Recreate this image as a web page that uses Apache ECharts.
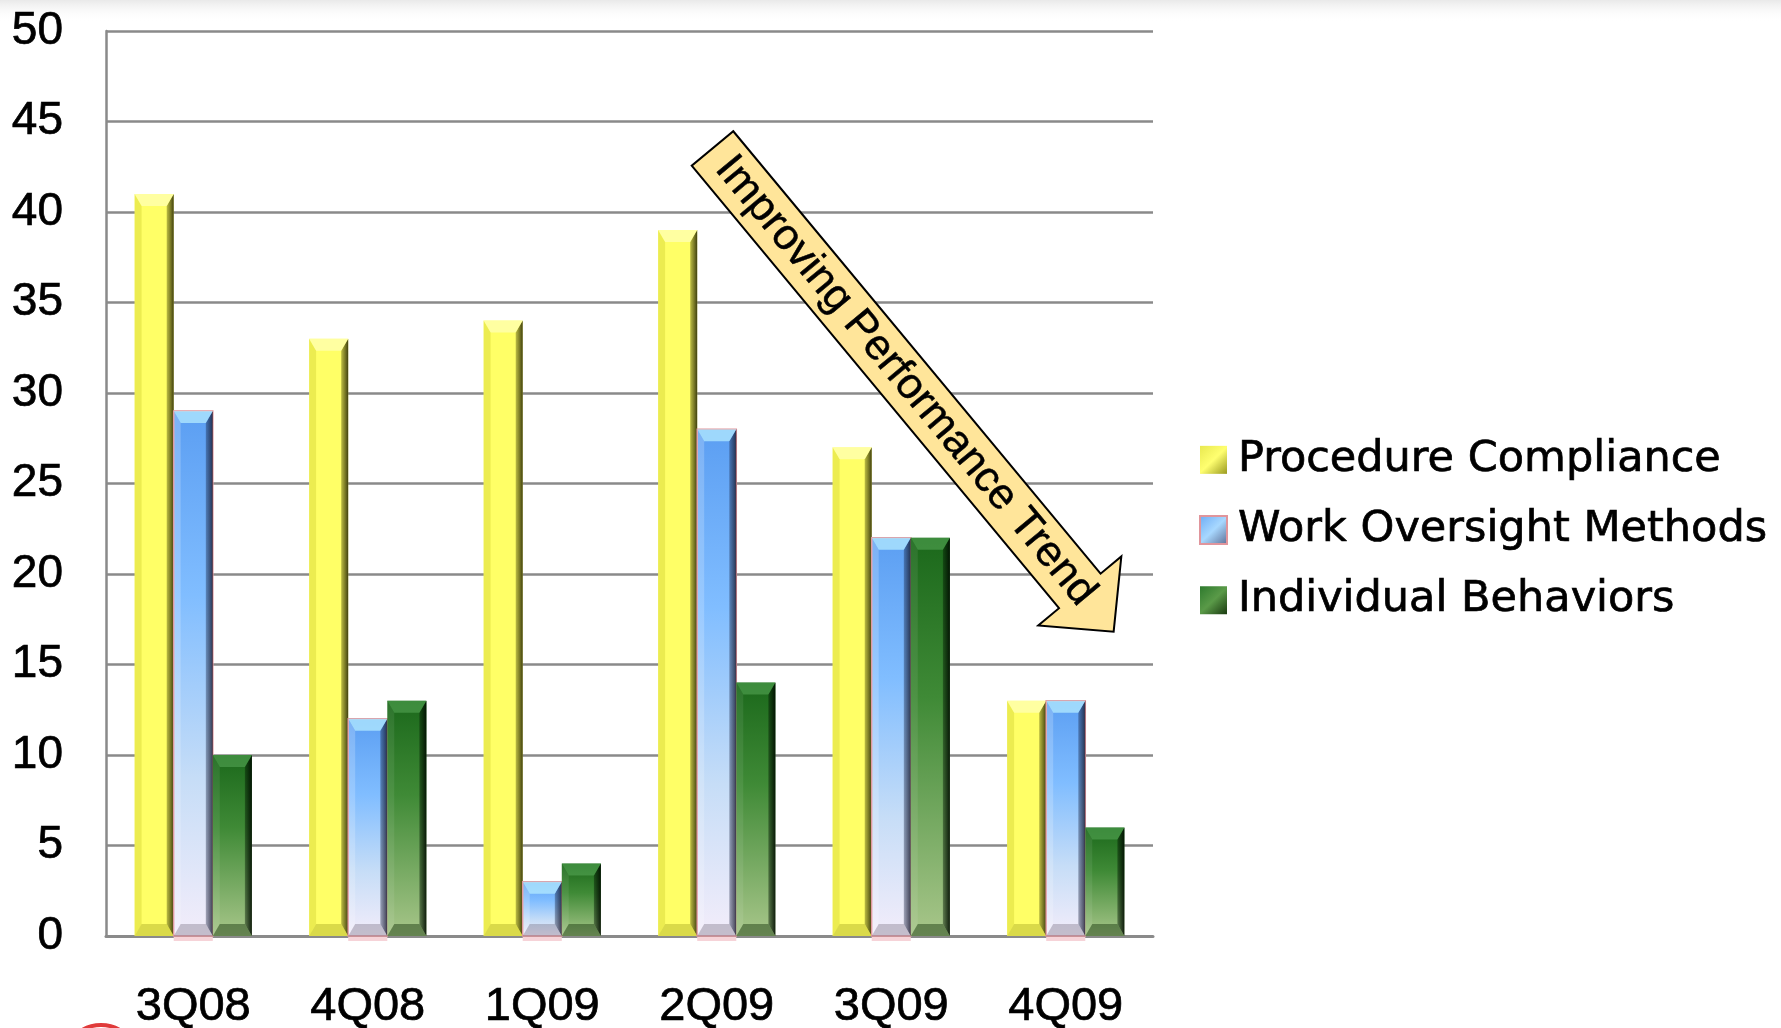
<!DOCTYPE html>
<html>
<head>
<meta charset="utf-8">
<script src="https://cdn.jsdelivr.net/npm/echarts@6/dist/echarts.min.js"></script>
<style>
  html, body { margin: 0; padding: 0; background: #fff; }
  #main { width: 1781px; height: 1028px; }
</style>
</head>
<body>
<div id="main"></div>
<script>
// chart data
var categories = ['3Q08', '4Q08', '1Q09', '2Q09', '3Q09', '4Q09'];
var procedureCompliance = [41, 33, 34, 39, 27, 13];
var workOversightMethods = [29, 12, 3, 28, 22, 13];
var individualBehaviors = [10, 13, 4, 14, 22, 6];
var seriesNames = ['Procedure Compliance', 'Work Oversight Methods', 'Individual Behaviors'];

var LG = echarts.graphic.LinearGradient;
var myChart = echarts.init(document.getElementById('main'));

// bar looks (bevelled 3d style like the office chart)
var looks = [
    {
        body: '#FFFF66',
        left: 'rgba(200,200,40,0.35)',
        top: 'rgba(255,255,200,0.6)',
        bottom: 'rgba(150,150,20,0.35)',
        rightA: 'rgba(60,60,0,0.35)', rightB: 'rgba(30,30,0,0.85)',
        stroke: null
    },
    {
        body: new LG(0, 0, 0, 1, [
            {offset: 0, color: '#5B9EF2'},
            {offset: 0.35, color: '#80BDFF'},
            {offset: 0.7, color: '#C6DDF7'},
            {offset: 1, color: '#F3EDFA'}
        ]),
        left: 'rgba(255,255,255,0.2)',
        top: 'rgba(180,235,255,0.75)',
        bottom: 'rgba(90,80,100,0.3)',
        rightA: 'rgba(20,30,60,0.35)', rightB: 'rgba(20,20,40,0.8)',
        stroke: '#E0959C'
    },
    {
        body: new LG(0, 0, 0, 1, [
            {offset: 0, color: '#1B681B'},
            {offset: 0.4, color: '#3F8A36'},
            {offset: 1, color: '#A8C68A'}
        ]),
        left: 'rgba(255,255,255,0.08)',
        top: 'rgba(90,170,90,0.55)',
        bottom: 'rgba(20,50,10,0.45)',
        rightA: 'rgba(0,20,0,0.4)', rightB: 'rgba(0,10,0,0.9)',
        stroke: null
    }
];

function makeRender(idx) {
    var lk = looks[idx];
    return function (params, api) {
        var cat = api.value(0);
        var val = api.value(1);
        var base = api.coord([cat, 0]);
        var top = api.coord([cat, val]);
        var band = api.size([1, 0])[0];
        var w = band * 0.224;
        var x0 = base[0] - 1.5 * w + idx * w;
        var x1 = x0 + w;
        var y0 = top[1], y1 = base[1];
        var h = y1 - y0;
        var b = 7, bh = Math.min(12, h / 2);
        var kids = [
            {type: 'rect', shape: {x: x0, y: y0, width: w, height: h},
             style: {fill: lk.body, stroke: lk.stroke, lineWidth: lk.stroke ? 1.5 : 0}},
            {type: 'polygon', shape: {points: [[x0, y0], [x0 + b, y0 + bh], [x0 + b, y1 - bh], [x0, y1]]},
             style: {fill: lk.left}},
            {type: 'polygon', shape: {points: [[x1, y0], [x1, y1], [x1 - b, y1 - bh], [x1 - b, y0 + bh]]},
             style: {fill: new LG(0, 0, 1, 0, [{offset: 0, color: lk.rightA}, {offset: 1, color: lk.rightB}])}},
            {type: 'polygon', shape: {points: [[x0, y0], [x1, y0], [x1 - b, y0 + bh], [x0 + b, y0 + bh]]},
             style: {fill: lk.top}},
            {type: 'polygon', shape: {points: [[x0, y1], [x1, y1], [x1 - b, y1 - bh], [x0 + b, y1 - bh]]},
             style: {fill: lk.bottom}}
        ];
        if (lk.stroke) {
            kids.push({type: 'rect', shape: {x: x0, y: y1 + 1, width: w, height: 4},
                style: {fill: '#F6D3D8'}});
        }
        return {type: 'group', children: kids};
    };
}

function toPairs(arr) {
    return categories.map(function (c, i) { return [i, arr[i]]; });
}

// arrow annotation
var ang = 50.3 * Math.PI / 180;
var ox = 712.5, oy = 148.5;
var ux = Math.cos(ang), uy = Math.sin(ang), vx = Math.sin(ang), vy = -Math.cos(ang);
var arrowLocal = [[0, 27], [575, 27], [575, 54], [628, 0], [575, -54], [575, -27], [0, -27]];
var arrowPts = arrowLocal.map(function (p) {
    return [ox + p[0] * ux + p[1] * vx, oy + p[0] * uy + p[1] * vy];
});
var textAlong = 302;

var legendIcons = [
    new LG(0, 0, 1, 1, [{offset: 0, color: '#E8E850'}, {offset: 0.5, color: '#FFFF70'}, {offset: 1, color: '#9A9A20'}]),
    new LG(0, 0, 1, 1, [{offset: 0, color: '#6AAAF5'}, {offset: 0.5, color: '#A8D8FF'}, {offset: 1, color: '#5A6A90'}]),
    new LG(0, 0, 1, 1, [{offset: 0, color: '#2E7A2E'}, {offset: 0.5, color: '#5A9A48'}, {offset: 1, color: '#1A3A10'}])
];

var option = {
    backgroundColor: '#fff',
    animation: false,
    grid: {left: 106, right: 628, top: 31, bottom: 92, containLabel: false, outerBoundsMode: 'none'},
    legend: {
        orient: 'vertical',
        left: 1199,
        top: 438,
        padding: 0,
        itemGap: 26.5,
        itemWidth: 27,
        itemHeight: 28,
        icon: 'rect',
        textStyle: {fontFamily: 'DejaVu Sans', fontSize: 43, lineHeight: 42, color: '#000',
                    textBorderColor: '#000', textBorderWidth: 0.7, padding: [0, 0, 0, 6]},
        data: seriesNames.map(function (n, i) {
            return {name: n, itemStyle: {color: legendIcons[i], borderColor: i === 1 ? '#E0959C' : null, borderWidth: i === 1 ? 2 : 0}};
        })
    },
    xAxis: {
        type: 'category',
        data: categories,
        axisLine: {show: true, lineStyle: {color: '#8A8A8A', width: 3}},
        axisTick: {show: false},
        axisLabel: {fontFamily: 'Liberation Sans', fontSize: 47, color: '#000', margin: 48,
                    textBorderColor: '#000', textBorderWidth: 0.7}
    },
    yAxis: {
        type: 'value',
        min: 0,
        max: 50,
        interval: 5,
        axisLine: {show: true, lineStyle: {color: '#8A8A8A', width: 2.5}},
        axisTick: {show: false},
        splitLine: {lineStyle: {color: '#8A8A8A', width: 2.5}},
        axisLabel: {fontFamily: 'Liberation Sans', fontSize: 46, color: '#000', margin: 43,
                    textBorderColor: '#000', textBorderWidth: 0.7}
    },
    series: [
        {name: seriesNames[0], type: 'custom', renderItem: makeRender(0), encode: {x: 0, y: 1},
         itemStyle: {color: '#FFFF66'}, data: toPairs(procedureCompliance), z: 3},
        {name: seriesNames[1], type: 'custom', renderItem: makeRender(1), encode: {x: 0, y: 1},
         itemStyle: {color: '#6AAAF5'}, data: toPairs(workOversightMethods), z: 3},
        {name: seriesNames[2], type: 'custom', renderItem: makeRender(2), encode: {x: 0, y: 1},
         itemStyle: {color: '#2E7A2E'}, data: toPairs(individualBehaviors), z: 3}
    ],
    graphic: [
        {type: 'rect', z: 0, silent: true, shape: {x: 0, y: 0, width: 1781, height: 22},
         style: {fill: new LG(0, 0, 0, 1, [{offset: 0, color: '#E9E9E9'}, {offset: 1, color: 'rgba(255,255,255,0)'}])}},
        {type: 'polygon', z: 100, shape: {points: arrowPts},
         style: {fill: '#FFE59A', stroke: '#000', lineWidth: 2}},
        {type: 'text', z: 101,
         x: ox + textAlong * ux, y: oy + textAlong * uy,
         rotation: -ang,
         style: {text: 'Improving Performance Trend', fontFamily: 'Liberation Sans', fontSize: 43,
                 fill: '#000', stroke: '#000', lineWidth: 0.5, align: 'center', verticalAlign: 'middle'}},
        {type: 'circle', z: 50, shape: {cx: 101, cy: 1062, r: 37},
         style: {fill: 'none', stroke: '#E03A3A', lineWidth: 4}}
    ]
};
myChart.setOption(option);
</script>
</body>
</html>
